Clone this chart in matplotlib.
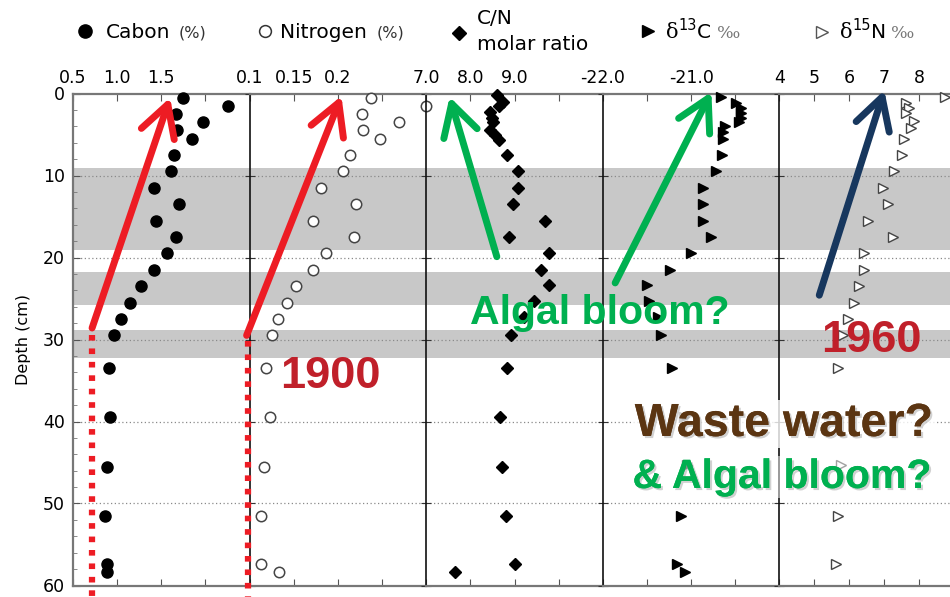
import numpy as np
import matplotlib.pyplot as plt
from matplotlib import patheffects as pe

# ---- data (depth in cm) ----
cn_depth_main = [0.5, 1.5, 2.5, 3.5, 4.5, 5.5, 7.5, 9.5, 11.5, 13.5, 15.5, 17.5,
                 19.5, 21.5, 23.5, 25.5, 27.5, 29.5, 33.5, 39.5, 45.5, 51.5, 57.4, 58.4]
carbon = [1.75, 2.25, 1.67, 1.97, 1.68, 1.85, 1.64, 1.61, 1.42, 1.70, 1.44, 1.67,
          1.56, 1.42, 1.27, 1.15, 1.04, 0.96, 0.91, 0.92, 0.88, 0.86, 0.89, 0.89]
nitrogen = [0.237, 0.300, 0.227, 0.269, 0.228, 0.248, 0.214, 0.206, 0.181, 0.220, 0.172, 0.218,
            0.186, 0.172, 0.152, 0.142, 0.132, 0.125, 0.119, 0.123, 0.116, 0.113, 0.113, 0.133]

cn_depth = [0.2, 1.0, 1.5, 2.3, 3.0, 3.5, 4.4, 5.0, 5.7, 7.5, 9.5, 11.5, 13.5, 15.5,
            17.5, 19.5, 21.5, 23.3, 25.3, 27.3, 29.5, 33.5, 39.5, 45.5, 51.5, 57.4, 58.4]
cn_ratio = [8.61, 8.75, 8.66, 8.44, 8.48, 8.52, 8.44, 8.56, 8.65, 8.84, 9.07, 9.09, 8.96, 9.68,
            8.88, 9.78, 9.60, 9.78, 9.45, 9.22, 8.92, 8.84, 8.67, 8.71, 8.81, 9.02, 7.66]

d13c_depth = [0.4, 1.2, 1.8, 2.4, 3.0, 3.5, 4.0, 4.7, 5.5, 7.5, 9.5, 11.5, 13.5, 15.5,
              17.5, 19.5, 21.5, 23.3, 25.3, 27.3, 29.5, 33.5, 39.5, 45.3, 51.5, 57.4, 58.4]
d13c = [-20.66, -20.49, -20.44, -20.44, -20.44, -20.46, -20.62, -20.64, -20.64, -20.65,
        -20.72, -20.87, -20.87, -20.87, -20.77, -21.00, -21.24, -21.50, -21.48, -21.38,
        -21.34, -21.22, -21.08, -21.05, -21.11, -21.16, -21.07]

d15n_depth = [0.4, 1.2, 1.8, 2.4, 3.4, 4.2, 5.5, 7.5, 9.5, 11.5, 13.5, 15.5, 17.5, 19.5,
              21.5, 23.5, 25.5, 27.5, 29.5, 33.5, 39.5, 45.3, 51.5, 57.4]
d15n = [8.74, 7.62, 7.70, 7.62, 7.86, 7.76, 7.57, 7.52, 7.29, 6.95, 7.10, 6.52, 7.24, 6.43,
        6.43, 6.27, 6.14, 5.95, 5.83, 5.67, 5.70, 5.76, 5.67, 5.62]

bands = [(9.1, 19.1), (21.8, 25.8), (28.8, 32.3)]

x_limits = [(0.5, 2.5), (0.1, 0.3), (7, 11), (-22, -20), (4, 9.05)]
x_ticks = [[0.5, 1.0, 1.5, 2.0], [0.1, 0.15, 0.2, 0.25], [7, 8, 9, 10],
           [-22, -21.5, -21, -20.5], [4, 5, 6, 7, 8]]
x_labels = [['0.5', '1.0', '1.5', ''], ['0.1', '0.15', '0.2', ''], ['7.0', '8.0', '9.0', ''],
            ['-22.0', '', '-21.0', ''], ['4', '5', '6', '7', '8']]

W, H = 950, 597
fig = plt.figure(figsize=(W / 100, H / 100), dpi=100)
x0, pw = 73, 176.6
top, bot = 93.5, 585.5

axes = []
for i in range(5):
    ax = fig.add_axes([(x0 + i * pw) / W, 1 - bot / H, pw / W, (bot - top) / H])
    ax.set_xlim(*x_limits[i])
    ax.set_ylim(60, 0)
    ax.patch.set_alpha(0)
    for a, b in bands:
        ax.axhspan(a, b, color='#c8c8c8', lw=0, zorder=0)
    for g in range(10, 60, 10):
        ax.axhline(g, color='#8a8a8a', lw=0.9, ls=(0, (1, 2)), zorder=1)
    ax.set_xticks(x_ticks[i])
    ax.set_xticklabels(x_labels[i])
    ax.tick_params(axis='x', which='both', top=True, bottom=True, labeltop=True,
                   labelbottom=False, direction='in', length=5, color='#555',
                   labelsize=12.5, pad=5)
    ax.spines['right'].set_visible(False)
    for s in ['top', 'bottom']:
        ax.spines[s].set_color('#777')
        ax.spines[s].set_linewidth(1.6)
    ax.set_yticks(range(0, 61, 10))
    if i == 0:
        ax.spines['left'].set_color('#777')
        ax.spines['left'].set_linewidth(1.6)
        ax.set_yticks(range(0, 61, 2), minor=True)
        ax.tick_params(axis='y', which='major', direction='in', length=5, color='#555',
                       labelsize=12.5, pad=6)
        ax.tick_params(axis='y', which='minor', direction='in', length=3, color='#777')
        ax.set_ylabel('Depth (cm)', fontsize=11.5, labelpad=8)
    else:
        ax.spines['left'].set_color('#111')
        ax.spines['left'].set_linewidth(1.2)
        ax.tick_params(axis='y', which='major', direction='inout', length=7, color='#333',
                       labelleft=False)
    axes.append(ax)

ax_c, ax_n, ax_cn, ax_13, ax_15 = axes
ax_c.plot(carbon, cn_depth_main, 'o', color='black', ms=8, clip_on=False, zorder=4)
ax_n.plot(nitrogen, cn_depth_main, 'o', mfc='white', mec='#444', mew=1.1, ms=7.5,
          clip_on=False, zorder=4)
ax_cn.plot(cn_ratio, cn_depth, 'D', color='black', ms=6.3, clip_on=False, zorder=4)
ax_13.plot(d13c, d13c_depth, '>', color='black', ms=7.8, clip_on=False, zorder=4)
ax_15.plot(d15n, d15n_depth, '>', mfc='white', mec='#444', mew=1.0, ms=7.8,
           clip_on=False, zorder=4)


def arrow(ax, head, tail, color):
    ax.annotate('', xy=head, xytext=tail, annotation_clip=False, zorder=6,
                arrowprops=dict(arrowstyle='->,head_length=0.9,head_width=0.5',
                                color=color, lw=5, mutation_scale=25,
                                shrinkA=0, shrinkB=0, capstyle='round',
                                joinstyle='round'))


red = '#ed1c24'
arrow(ax_c, (1.60, 0.5), (0.716, 28.6), red)
ax_c.plot([0.716, 0.716], [29.5, 61.5], color=red, lw=4.5, ls=(0, (0.9, 1.25)),
          clip_on=False, zorder=6)
arrow(ax_n, (0.204, 0.3), (0.0966, 29.5), red)
ax_n.plot([0.0977, 0.0977], [30.2, 61.5], color=red, lw=4.5, ls=(0, (0.9, 1.25)),
          clip_on=False, zorder=6)
green = '#00b050'
arrow(ax_cn, (7.53, 0.4), (8.60, 19.9), green)
arrow(ax_13, (-20.77, -0.2), (-21.86, 23.1), green)
arrow(ax_15, (7.0, -0.4), (5.14, 24.6), '#17375e')

# ---- overlay in pixel space for legend and call-outs ----
ov = fig.add_axes([0, 0, 1, 1])
ov.set_xlim(0, W)
ov.set_ylim(H, 0)
ov.axis('off')

ov.plot(85, 31, 'o', color='black', ms=9.5)
ov.text(106, 32, 'Cabon', fontsize=14.5, va='center')
ov.text(179, 33, '(%)', fontsize=11.5, va='center', color='#333')
ov.plot(265, 31, 'o', mfc='white', mec='#333', mew=1.1, ms=8.5)
ov.text(280, 32, 'Nitrogen', fontsize=14.5, va='center')
ov.text(377, 33, '(%)', fontsize=11.5, va='center', color='#333')
ov.plot(459, 33, 'D', color='black', ms=7)
ov.text(477, 18, 'C/N', fontsize=14.5, va='center')
ov.text(477, 44, 'molar ratio', fontsize=14.5, va='center')
ov.plot(648, 31, '>', color='black', ms=9)
ov.plot(822, 32, '>', mfc='white', mec='#555', mew=1.0, ms=8.5)
for xs, iso, el in [(666, '13', 'C'), (840, '15', 'N')]:
    ov.text(xs, 33, 'δ', fontsize=15, family='DejaVu Serif', va='center')
    ov.text(xs + 12, 26, iso, fontsize=10.5, va='center')
    ov.text(xs + 31, 32, el, fontsize=14.5, va='center')
    ov.text(xs + 51, 34, '‰', fontsize=12.5, family='DejaVu Serif', va='center',
            color='#777')

bold = dict(family='Liberation Sans', fontweight='bold', ha='center', va='center', zorder=8)
shadow = [pe.withSimplePatchShadow(offset=(1.5, -1.5), shadow_rgbFace='#999', alpha=0.45),
          pe.Normal()]
ov.text(330, 377, '1900', fontsize=32.5, color='#c0202a', **bold)
ov.text(871, 340, '1960', fontsize=32.5, color='#c0202a', **bold)
ov.text(600, 313, 'Algal bloom?', fontsize=29.5, color=green, **bold)
ov.text(784, 424, 'Waste water?', fontsize=33.5, color='#5b3512', path_effects=shadow,
        bbox=dict(boxstyle='square,pad=0.05', fc='white', ec='none', alpha=0.8), **bold)
ov.text(782, 477, '& Algal bloom?', fontsize=29.5, color=green, path_effects=shadow,
        bbox=dict(boxstyle='square,pad=0.05', fc='white', ec='none', alpha=0.5), **bold)

fig.savefig('out.png', dpi=100)
